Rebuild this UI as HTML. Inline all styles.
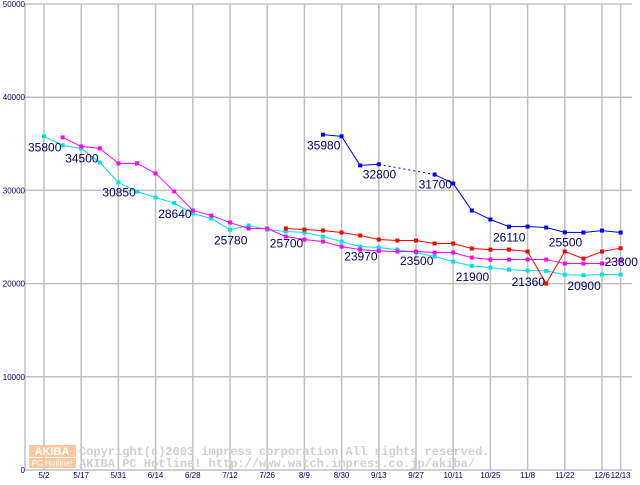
<!DOCTYPE html>
<html><head><meta charset="utf-8"><style>
body{margin:0;background:#fff;width:640px;height:480px;overflow:hidden}
svg text{font-family:"Liberation Sans",sans-serif}
</style></head><body>
<svg id="c" width="640" height="480">
<g id="wm">
<rect x="29" y="445" width="47" height="12" fill="#f9c8a0"/>
<text x="52" y="455" font-size="11" fill="#fff" text-anchor="middle" font-weight="bold">AKIBA</text>
<rect x="29" y="458" width="47" height="10" fill="#f9c8a0"/>
<text x="52" y="466" font-size="8" fill="#fff" text-anchor="middle">PC Hotline!</text>
<text x="79" y="455" font-size="12" fill="#d0d0d0" font-weight="bold" style="font-family:'Liberation Mono',monospace">Copyright(c)2003 impress corporation All rights reserved.</text>
<text x="79" y="467" font-size="12" fill="#d0d0d0" font-weight="bold" style="font-family:'Liberation Mono',monospace">AKIBA PC Hotline!  http://www.watch.impress.co.jp/akiba/</text>
</g>
</svg>
<script>
const yTicks=[0,10000,20000,30000,40000,50000];
const xLabels=["5/2","5/17","5/31","6/14","6/28","7/12","7/26","8/9","8/30","9/13","9/27","10/11","10/25","11/8","11/22","12/6","12/13"];
const cyan=[35800,34830,34500,33000,30850,29880,29240,28640,27520,26980,25780,26230,25800,25590,25480,25050,24510,23970,23870,23650,23330,22900,22360,21900,21710,21500,21390,21360,20960,20900,20960,20960];
const magenta=[null,35690,34720,34510,32900,32900,31820,29890,27840,27300,26550,25910,25910,25050,24730,24510,23970,23650,23500,23440,23440,23330,23330,22790,22580,22580,22580,22580,22150,22150,22150,22470];
const red=[null,null,null,null,null,null,null,null,null,null,null,null,null,25910,25800,25690,25480,25160,24730,24620,24620,24300,24300,23760,23650,23650,23440,20000,23440,22680,23440,23800];
const blue=[null,null,null,null,null,null,null,null,null,null,null,null,null,null,null,35980,35800,32680,32800,null,null,31700,30750,27840,26880,26110,26120,26020,25500,25480,25690,25480];
const annotations=[[0,35800,"35800"],[2,34500,"34500"],[4,30850,"30850"],[7,28640,"28640"],[10,25780,"25780"],[13,25700,"25700"],[15,35980,"35980"],[18,32800,"32800"],[21,31700,"31700"],[17,23970,"23970"],[20,23500,"23500"],[25,26110,"26110"],[23,21900,"21900"],[26,21360,"21360"],[28,25500,"25500"],[29,20900,"20900"],[31,23800,"23800"]];
const annOffset=[[-16,15],[-16,14],[-16,14],[-16,15],[-16,15],[-16,17],[-16,15],[-16,14],[-16,14],[-16,14],[-16,14],[-16,15],[-16,15],[-16,15],[-16,14],[-16,15],[-16,18]];
const X=i=>44+18.6*i, Y=v=>470-v*466/50000;
const svg=document.getElementById('c'),NS="http://www.w3.org/2000/svg";
function mk(t,a,p){const e=document.createElementNS(NS,t);for(const k in a)e.setAttribute(k,a[k]);(p||svg).appendChild(e);return e;}
const grid=mk('g',{});
svg.insertBefore(grid,svg.firstChild);
yTicks.forEach(v=>{const l=mk('line',{x1:25,x2:632,y1:Y(v),y2:Y(v),stroke:'#c0c0c0','stroke-width':1.5},grid);

const t=mk('text',{x:25,y:Y(v)+3,'font-size':8,fill:'#000080','text-anchor':'end'});t.textContent=v;
});
mk('line',{x1:25,x2:25,y1:4,y2:470,stroke:'#c0c0c0','stroke-width':1.5},grid);
xLabels.forEach((s,k)=>{const i=k<16?2*k:31;const x=X(i);
const l=mk('line',{x1:x,x2:x,y1:4,y2:470,stroke:'#c0c0c0','stroke-width':1.5},grid);

const t=mk('text',{x:x,y:478,'font-size':8,fill:'#000080','text-anchor':'middle'});t.textContent=s;
});
function series(d,col,name){const g=mk('g',{});
let last=-1;d.forEach((v,i)=>{if(v==null)return;
if(last>=0){const ln=mk('line',{x1:X(last),y1:Y(d[last]),x2:X(i),y2:Y(v),stroke:col,'stroke-width':1},g);
if(i-last>1)ln.setAttribute('stroke-dasharray','2,3');}
last=i;});
d.forEach((v,i)=>{if(v==null)return;const r=mk('rect',{x:X(i)-2,y:Y(v)-2,width:4,height:4,fill:col},g);
});}
series(cyan,'#00e0e0','series-cyan');series(magenta,'#ff00ff','series-magenta');series(red,'#ff0000','series-red');series(blue,'#0000ff','series-blue');
annotations.forEach((a,k)=>{const t=mk('text',{x:X(a[0])+annOffset[k][0],y:Y(a[1])+annOffset[k][1],'font-size':12,fill:'#000066'});
t.textContent=a[2];});
</script>
</body></html>
